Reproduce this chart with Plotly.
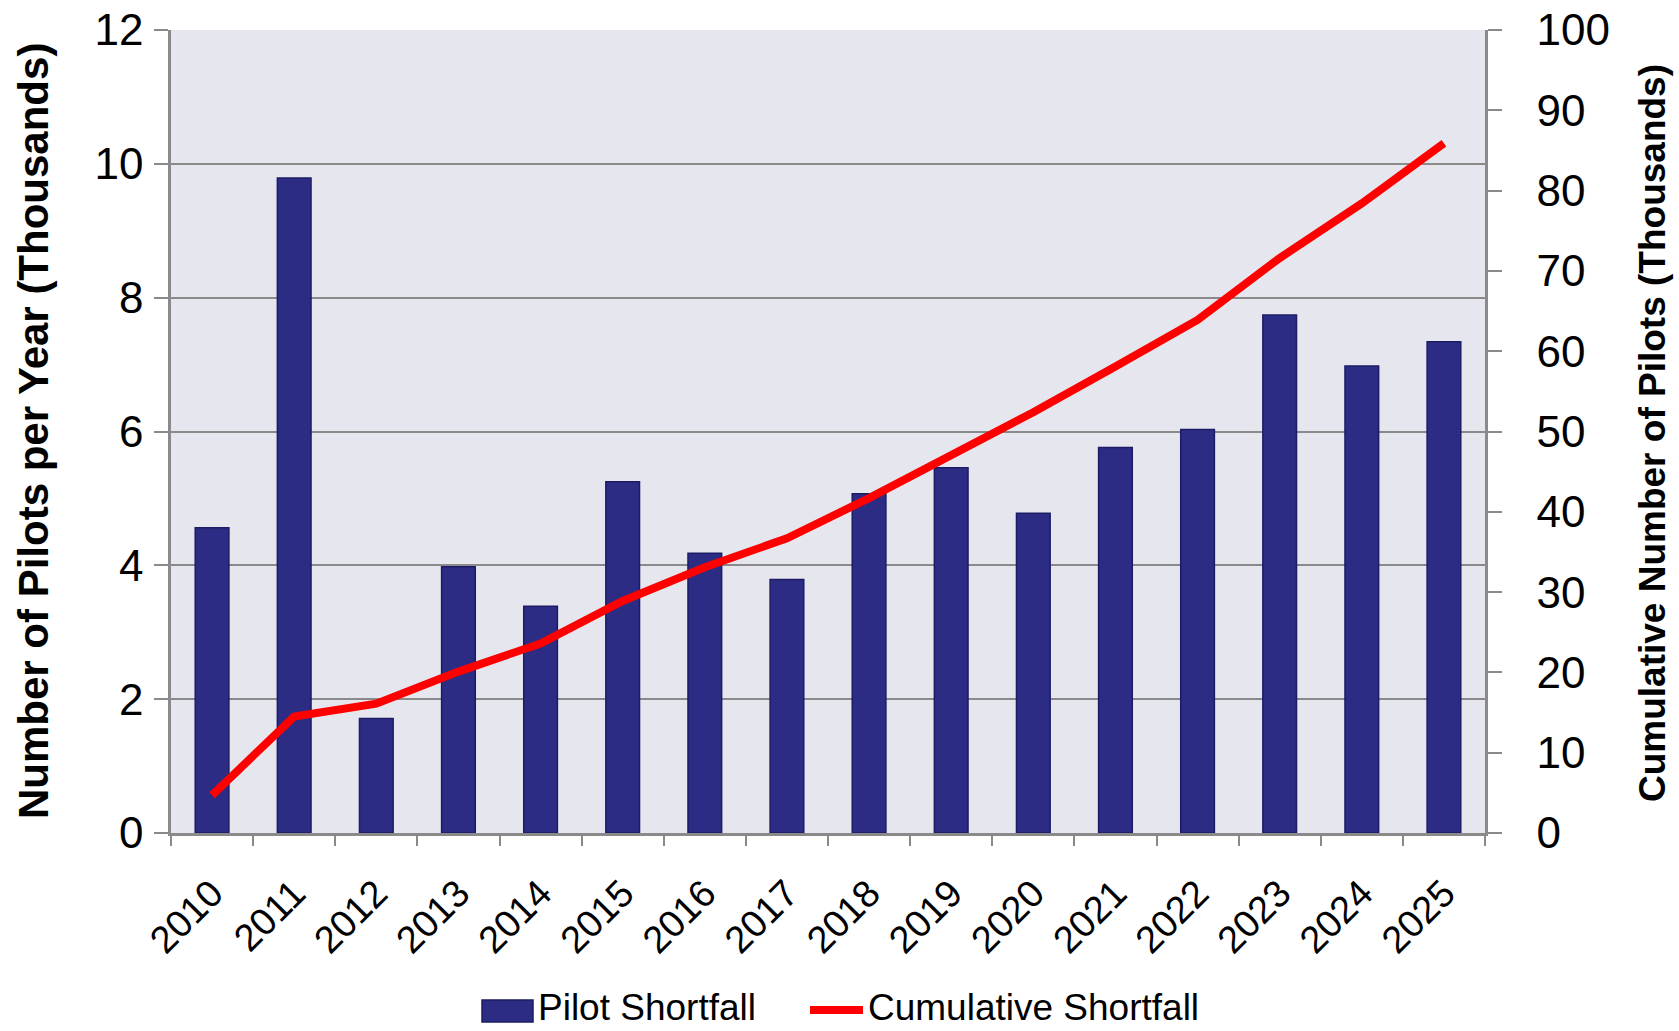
import plotly.graph_objects as go

# Annual pilot shortfall (thousands) and running total (thousands)
years = ["2010", "2011", "2012", "2013", "2014", "2015", "2016", "2017",
         "2018", "2019", "2020", "2021", "2022", "2023", "2024", "2025"]
shortfall = [4.56, 9.79, 1.71, 3.98, 3.39, 5.25, 4.18, 3.79,
             5.07, 5.46, 4.78, 5.76, 6.03, 7.74, 6.98, 7.34]
cumulative = [4.7, 14.5, 16.1, 20.1, 23.6, 28.9, 33.1, 36.7,
              41.7, 47.1, 52.4, 58.1, 63.9, 71.6, 78.4, 85.9]

left_ticks = [0, 2, 4, 6, 8, 10, 12]
right_ticks = list(range(0, 101, 10))

BAR_COLOR = "#2C2C84"
BAR_EDGE = "#1C1C66"
LINE_COLOR = "#FF0000"
GRID = "#8A8A8A"
FONT = "Liberation Sans, Arial, sans-serif"

fig = go.Figure()

fig.add_trace(go.Bar(
    x=years, y=shortfall, name="Pilot Shortfall",
    marker=dict(color=BAR_COLOR, line=dict(color=BAR_EDGE, width=1.5)),
    showlegend=False,
))

fig.add_trace(go.Scatter(
    x=years, y=cumulative, name="Cumulative Shortfall", yaxis="y2",
    mode="lines", line=dict(color=LINE_COLOR, width=8),
    showlegend=False,
))

W, H = 1679, 1031
L, R, T, B = 171, 1485, 30, 833


def px_x(px):
    return (px - L) / (R - L)


def px_y(py):
    return (B - py) / (B - T)


fig.update_layout(
    width=W, height=H,
    margin=dict(l=L, r=W - R, t=T, b=H - B, pad=0),
    paper_bgcolor="white",
    plot_bgcolor="#E6E7EE",
    bargap=0.59,
    font=dict(family=FONT, color="black"),
    xaxis=dict(
        type="category", range=[-0.5, 15.5], automargin=False,
        tickson="boundaries", ticks="outside", ticklen=10, tickwidth=2,
        tickcolor=GRID, showline=True, linecolor=GRID, linewidth=2.5,
        showgrid=False, tickangle=-45, tickfont=dict(size=38),
        ticklabelstandoff=20,
    ),
    yaxis=dict(
        range=[0, 12], tickvals=left_ticks, ticks="outside", ticklen=14,
        tickwidth=2, tickcolor=GRID, showline=True, linecolor=GRID,
        linewidth=2.5, showgrid=True, gridcolor=GRID, gridwidth=2,
        zeroline=False, tickfont=dict(size=44), ticklabelstandoff=2,
        automargin=False,
    ),
    yaxis2=dict(
        range=[0, 100], tickvals=right_ticks, overlaying="y", side="right",
        ticks="outside", ticklen=14, tickwidth=2, tickcolor=GRID,
        showline=True, linecolor=GRID, linewidth=2.5, showgrid=False,
        zeroline=False, tickfont=dict(size=44), ticklabelstandoff=26,
        automargin=False,
    ),
)

# Axis titles
fig.add_annotation(
    text="<b>Number of Pilots per Year (Thousands)</b>", textangle=-90,
    xref="paper", yref="paper", x=px_x(33), y=px_y(431),
    xanchor="center", yanchor="middle", showarrow=False,
    font=dict(size=42, family=FONT, color="black"),
)
fig.add_annotation(
    text="<b>Cumulative Number of Pilots (Thousands)</b>", textangle=-90,
    xref="paper", yref="paper", x=px_x(1652), y=px_y(433),
    xanchor="center", yanchor="middle", showarrow=False,
    font=dict(size=37, family=FONT, color="black"),
)

# Legend drawn below the plot
leg_y = 1010
fig.add_shape(type="rect", xref="paper", yref="paper",
              x0=px_x(482), x1=px_x(533), y0=px_y(1022), y1=px_y(1000),
              fillcolor=BAR_COLOR, line=dict(color=BAR_EDGE, width=1.5))
fig.add_annotation(text="Pilot Shortfall", xref="paper", yref="paper",
                   x=px_x(537), y=px_y(1029), xanchor="left", yanchor="bottom",
                   showarrow=False, borderpad=0,
                   font=dict(size=37, family=FONT, color="black"))
fig.add_shape(type="line", xref="paper", yref="paper",
              x0=px_x(810), x1=px_x(863), y0=px_y(leg_y), y1=px_y(leg_y),
              line=dict(color=LINE_COLOR, width=8))
fig.add_annotation(text="Cumulative Shortfall", xref="paper", yref="paper",
                   x=px_x(867), y=px_y(1029), xanchor="left", yanchor="bottom",
                   showarrow=False, borderpad=0,
                   font=dict(size=37, family=FONT, color="black"))

fig.write_html("out.html")
